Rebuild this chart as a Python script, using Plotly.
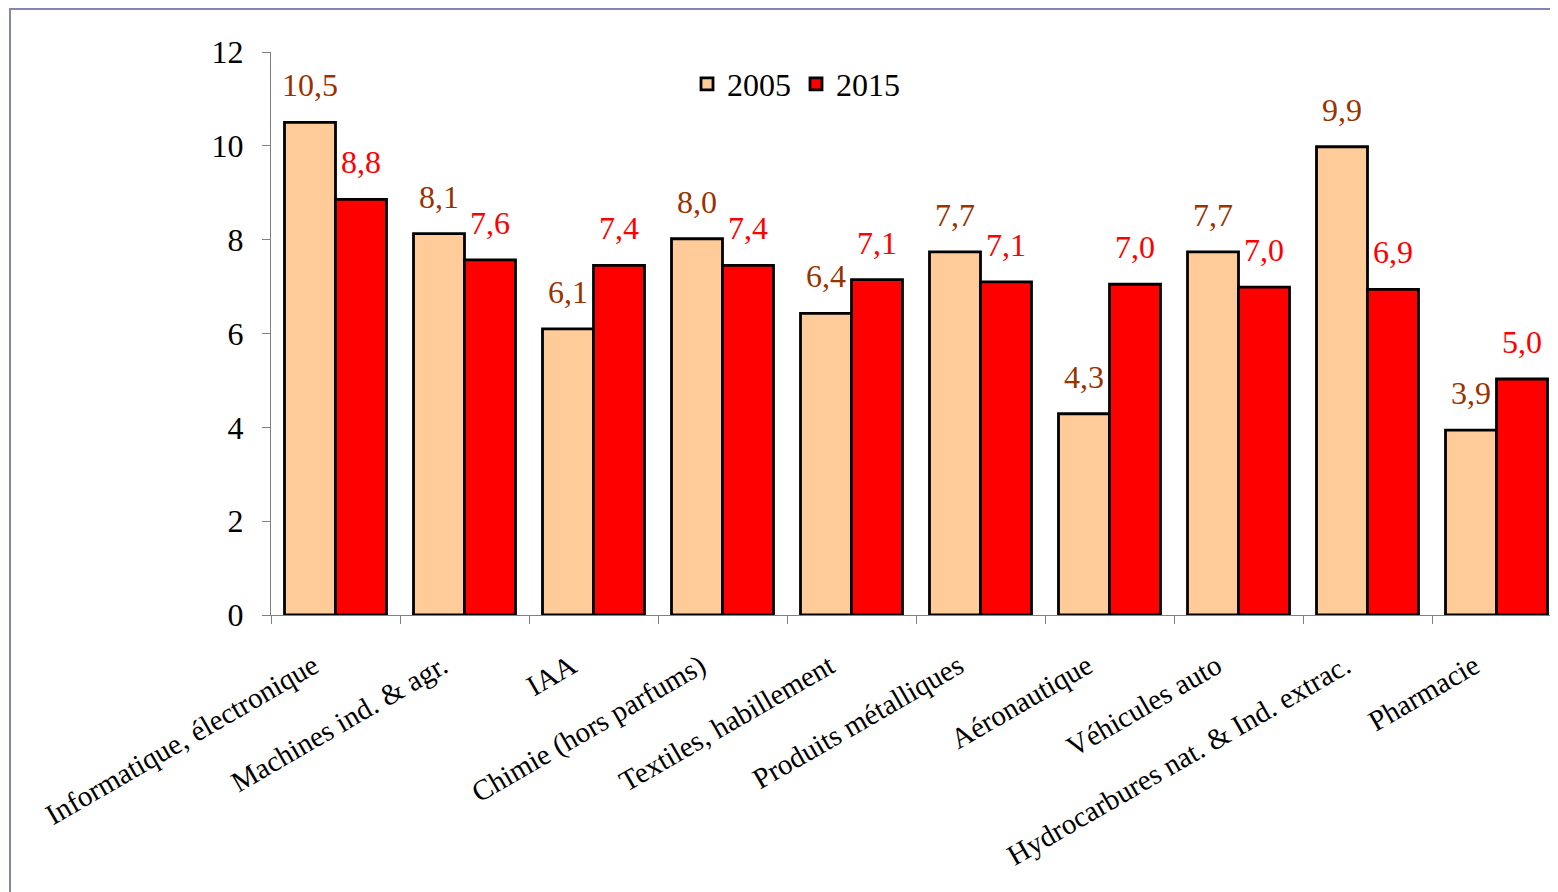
import plotly.graph_objects as go

categories = [
    "Informatique, électronique",
    "Machines ind. & agr.",
    "IAA",
    "Chimie (hors parfums)",
    "Textiles, habillement",
    "Produits métalliques",
    "Aéronautique",
    "Véhicules auto",
    "Hydrocarbures nat. & Ind. extrac.",
    "Pharmacie",
]
values_2005 = [10.5, 8.13, 6.1, 8.02, 6.43, 7.74, 4.29, 7.74, 9.98, 3.94]
values_2015 = [8.86, 7.57, 7.45, 7.45, 7.15, 7.1, 7.05, 6.99, 6.94, 5.03]
labels_2005 = ["10,5", "8,1", "6,1", "8,0", "6,4", "7,7", "4,3", "7,7", "9,9", "3,9"]
labels_2015 = ["8,8", "7,6", "7,4", "7,4", "7,1", "7,1", "7,0", "7,0", "6,9", "5,0"]
y_ticks = [0, 2, 4, 6, 8, 10, 12]

FONT = "Times New Roman, Liberation Serif, serif"
C2005 = "#FFCC99"
C2015 = "#FF0000"
LAB2005 = "#993300"
LAB2015 = "#FF0000"

fig = go.Figure()
fig.add_trace(go.Bar(name="2005", x=categories, y=values_2005,
                     marker=dict(color=C2005, line=dict(color="black", width=2.8))))
fig.add_trace(go.Bar(name="2015", x=categories, y=values_2015,
                     marker=dict(color=C2015, line=dict(color="black", width=2.8))))

annotations = []
for cat, v, t in zip(categories, values_2005, labels_2005):
    annotations.append(dict(x=cat, y=v, text=t, showarrow=False, xshift=-25.5, yshift=37,
                            yanchor="middle", font=dict(family=FONT, size=32, color=LAB2005)))
for cat, v, t in zip(categories, values_2015, labels_2015):
    annotations.append(dict(x=cat, y=v, text=t, showarrow=False, xshift=25.5, yshift=37,
                            yanchor="middle", font=dict(family=FONT, size=32, color=LAB2015)))

# page body has an 8px margin, so the figure is drawn 8px in from the window
W, H = 1550, 884
L, R, T, B = 263, 1, 44, 277
pw = W - L - R
ph = H - T - B
Y0 = T + ph  # pixel row of the zero line inside the figure

fig.update_layout(
    width=W, height=H,
    margin=dict(l=L, r=R, t=T, b=B),
    paper_bgcolor="white", plot_bgcolor="white",
    barmode="group", bargap=27 / 129, bargroupgap=0,
    font=dict(family=FONT, color="black"),
    showlegend=True,
    legend=dict(orientation="h", x=(687 - 8 - L) / pw, xanchor="left",
                y=(Y0 - (84 - 8)) / ph, yanchor="middle",
                font=dict(family=FONT, size=32, color="black"),
                bgcolor="rgba(0,0,0,0)"),
    annotations=annotations,
    shapes=[dict(type="rect", xref="paper", yref="paper",
                 x0=(2 - L) / pw, x1=(1600 - L) / pw,
                 y0=(Y0 - 950) / ph, y1=(Y0 - 1) / ph,
                 line=dict(color="#8585b5", width=2), fillcolor="rgba(0,0,0,0)", layer="below")],
)
fig.update_xaxes(
    type="category", range=[-0.5, -0.5 + pw / 129],
    showline=True, linecolor="#808080", linewidth=1,
    ticks="outside", tickson="boundaries", ticklen=8, tickcolor="#808080",
    tickangle=-30, tickfont=dict(family=FONT, size=29, color="black"),
    ticklabelstandoff=22, ticklabelshift=-22,
    showgrid=False, zeroline=False,
)
fig.update_yaxes(
    range=[0, 12], tickvals=y_ticks, ticktext=[str(v) for v in y_ticks],
    showline=True, linecolor="#808080", linewidth=1,
    ticks="outside", ticklen=8, tickcolor="#808080",
    tickfont=dict(family=FONT, size=32, color="black"),
    ticklabelstandoff=12,
    showgrid=False, zeroline=False,
)

fig.write_html("out.html")
